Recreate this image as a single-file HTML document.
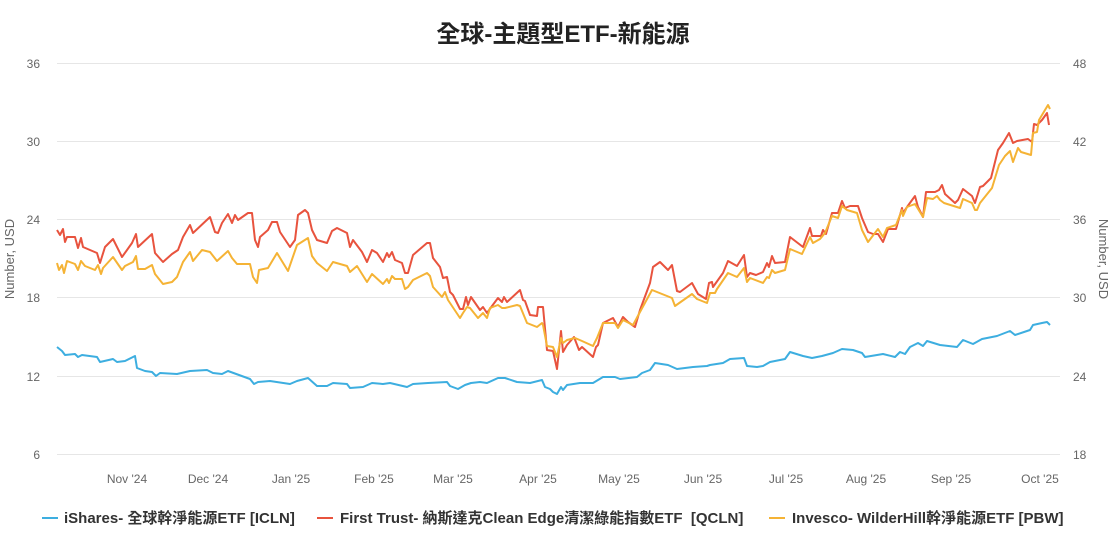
<!DOCTYPE html>
<html><head><meta charset="utf-8"><style>
body{margin:0;background:#fff;width:1120px;height:534px;overflow:hidden}
svg text{font-family:"Liberation Sans","Noto Sans CJK TC",sans-serif}
</style></head><body>
<svg width="1120" height="534" xmlns="http://www.w3.org/2000/svg">
<text x="563" y="42" text-anchor="middle" font-size="24" font-weight="bold" fill="#222">全球-主題型ETF-新能源</text>
<g stroke="#e6e6e6" stroke-width="1">
<line x1="57" x2="1060" y1="63.5" y2="63.5"/><line x1="57" x2="1060" y1="141.5" y2="141.5"/>
<line x1="57" x2="1060" y1="219.5" y2="219.5"/><line x1="57" x2="1060" y1="297.5" y2="297.5"/>
<line x1="57" x2="1060" y1="376.5" y2="376.5"/><line x1="57" x2="1060" y1="454.5" y2="454.5"/>
</g>
<g font-size="12" fill="#666" text-anchor="end">
<text x="40" y="68">36</text><text x="40" y="146">30</text><text x="40" y="224">24</text><text x="40" y="302">18</text><text x="40" y="381">12</text><text x="40" y="459">6</text>
</g>
<g font-size="12" fill="#666" text-anchor="start">
<text x="1073" y="68">48</text><text x="1073" y="146">42</text><text x="1073" y="224">36</text><text x="1073" y="302">30</text><text x="1073" y="381">24</text><text x="1073" y="459">18</text>
</g>
<text transform="translate(14,259) rotate(-90)" text-anchor="middle" font-size="13" fill="#666">Number, USD</text>
<text transform="translate(1099,259) rotate(90)" text-anchor="middle" font-size="13" fill="#666">Number, USD</text>
<g font-size="12" fill="#666" text-anchor="middle">
<text x="127" y="483">Nov '24</text><text x="208" y="483">Dec '24</text><text x="291" y="483">Jan '25</text><text x="374" y="483">Feb '25</text><text x="453" y="483">Mar '25</text><text x="538" y="483">Apr '25</text><text x="619" y="483">May '25</text><text x="703" y="483">Jun '25</text><text x="786" y="483">Jul '25</text><text x="866" y="483">Aug '25</text><text x="951" y="483">Sep '25</text><text x="1040" y="483">Oct '25</text>
</g>
<g fill="none" stroke-width="2" stroke-linejoin="round">
<polyline stroke="#3daee0" points="57,347 62,351 65,355 75,354 78,357 82,355 97,357 100,362 113,359 117,362 125,361 135,356 137,368 145,371 152,372 156,376 160,373 177,374 190,371 207,370 213,373 222,374 228,371 250,379 254,384 258,382 270,381 290,384 297,381 308,378 317,386 327,386 333,383 347,384 350,388 363,387 372,383 383,384 390,383 407,387 413,384 428,383 447,382 450,386 458,389 465,385 471,383 480,382 487,383 498,378 505,378 517,382 530,383 542,380 545,387 550,389 553,392 557,394 561,387 563,390 567,385 580,383 593,383 598,380 603,377 615,377 620,379 637,377 642,373 650,370 655,363 668,365 677,369 693,367 707,366 710,365 723,363 730,359 744,358 747,366 757,367 763,366 770,362 785,359 790,352 803,356 812,358 822,356 833,353 842,349 853,350 862,353 865,357 883,354 895,357 900,352 905,354 910,347 918,343 923,346 927,341 940,345 957,347 963,340 973,344 982,339 997,336 1010,331 1015,335 1030,330 1033,325 1042,323 1047,322 1050,325"/>
<polyline stroke="#e8533e" points="57,230 60,235 63,229 65,242 67,237 75,237 78,248 81,238 83,247 97,253 100,263 105,247 113,239 122,257 132,243 136,234 138,247 152,234 155,253 163,262 172,254 178,250 183,237 190,225 193,233 210,217 215,232 218,233 222,223 228,214 232,223 235,215 238,220 248,213 252,213 255,240 258,247 260,237 268,230 272,222 277,222 280,232 290,247 295,240 298,215 305,210 308,213 312,230 317,240 327,243 332,231 337,228 347,233 350,247 353,240 362,252 367,262 372,250 377,253 383,262 387,253 389,257 392,252 395,260 402,263 405,273 408,273 413,255 427,243 430,243 433,258 440,267 443,278 447,277 450,292 453,295 460,309 463,309 466,297 468,305 471,297 480,310 483,307 487,313 492,306 498,298 502,302 504,297 507,302 520,290 523,300 525,301 530,315 537,316 538,307 542,307 543,307 547,350 553,351 557,369 561,331 563,352 567,345 574,337 579,350 582,347 593,357 596,347 598,345 603,323 613,318 618,327 623,317 628,322 635,327 640,310 650,283 653,267 660,262 668,270 672,265 677,291 680,292 692,283 698,294 706,299 709,283 712,282 713,287 718,280 723,273 728,261 737,266 744,255 747,277 750,273 756,275 763,272 767,263 769,267 772,256 775,263 785,262 790,237 803,247 810,228 812,236 821,236 823,230 826,234 832,213 838,213 842,201 845,208 850,206 858,206 862,218 868,232 873,234 878,234 883,242 888,229 896,229 902,208 903,213 907,207 915,196 918,207 923,217 926,192 935,192 939,190 942,185 945,194 955,203 958,200 963,189 972,196 975,203 980,187 983,186 991,178 998,150 1003,143 1009,133 1013,143 1017,141 1028,139 1032,142 1034,124 1037,125 1042,120 1047,113 1049,125"/>
<polyline stroke="#f5b335" points="57,263 59,270 62,265 64,273 67,261 75,264 78,270 81,261 85,266 95,270 98,265 101,274 103,268 113,257 122,270 125,266 133,262 136,256 138,269 145,269 152,265 155,274 163,284 172,282 177,277 183,262 190,252 193,261 202,250 210,252 217,261 228,251 232,258 237,264 250,264 253,277 257,283 259,270 268,268 277,253 288,271 297,245 308,238 312,256 317,263 327,271 333,262 347,266 350,272 357,266 367,282 372,274 383,284 387,279 389,283 392,276 395,279 402,279 405,289 408,287 413,280 427,273 430,276 433,287 442,297 445,292 448,300 460,318 463,313 467,307 470,308 478,318 483,313 487,318 490,308 498,305 502,308 505,308 517,305 520,306 527,323 537,327 542,323 543,325 547,346 553,347 557,357 561,338 563,343 567,340 575,338 582,341 593,346 597,338 603,323 615,323 618,328 623,320 633,325 640,312 652,290 657,292 672,298 675,306 692,294 697,299 707,303 710,293 715,293 717,289 728,273 737,277 744,268 747,282 750,278 763,283 767,277 769,278 772,270 775,273 785,270 790,249 802,254 810,237 813,243 820,239 825,233 832,216 838,218 842,206 847,210 857,213 862,230 868,242 878,229 883,237 887,228 896,225 902,210 903,216 907,207 915,204 923,217 927,198 933,199 937,196 940,200 944,203 960,208 963,199 972,203 975,210 977,210 980,203 992,188 999,165 1005,156 1010,151 1013,162 1018,148 1021,152 1031,155 1033,133 1037,132 1039,120 1048,105 1050,109"/>
</g>
<g font-size="15" font-weight="bold" fill="#333">
<line x1="42" x2="58" y1="518" y2="518" stroke="#3daee0" stroke-width="2"/>
<text x="64" y="523">iShares- 全球幹淨能源ETF [ICLN]</text>
<line x1="317" x2="333" y1="518" y2="518" stroke="#e8533e" stroke-width="2"/>
<text x="340" y="523" xml:space="preserve">First Trust- 納斯達克Clean Edge清潔綠能指數ETF  [QCLN]</text>
<line x1="769" x2="785" y1="518" y2="518" stroke="#f5b335" stroke-width="2"/>
<text x="792" y="523">Invesco- WilderHill幹淨能源ETF [PBW]</text>
</g>
</svg>
</body></html>
